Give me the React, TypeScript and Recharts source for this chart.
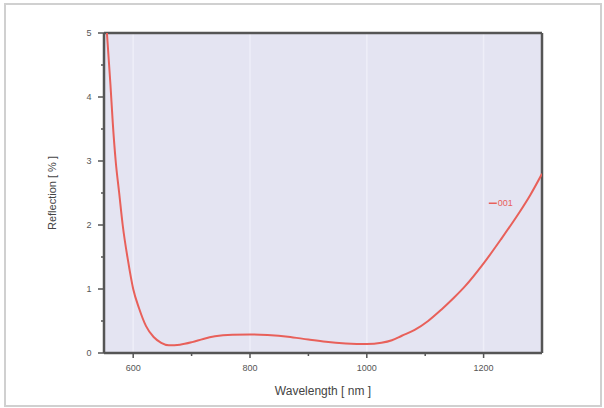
import React from "react";
import {
  LineChart,
  Line,
  XAxis,
  YAxis,
  CartesianGrid,
  ReferenceLine,
  ReferenceDot,
  Label,
} from "recharts";

const wavelengths = [
  555, 561, 565, 570, 576, 582, 591, 600, 610, 622, 635, 648, 661, 680, 701,
  720, 740, 770, 800, 830, 865, 900, 930, 964, 1000, 1025, 1043, 1060, 1082,
  1105, 1128, 1150, 1168, 1200, 1230, 1260, 1280, 1300,
];
const reflection = [
  5.0, 4.2, 3.6, 3.0, 2.5, 2.0, 1.45, 1.0, 0.7, 0.42, 0.25, 0.16, 0.12, 0.13,
  0.17, 0.22, 0.26, 0.285, 0.29, 0.28, 0.255, 0.21, 0.175, 0.15, 0.14, 0.16,
  0.2, 0.27, 0.36, 0.5, 0.68, 0.87, 1.04, 1.4, 1.78, 2.18, 2.47, 2.8,
];
const xTicks = [600, 700, 800, 900, 1000, 1100, 1200];
const xMajor = [600, 800, 1000, 1200];
const yTicks = [0, 0.5, 1, 1.5, 2, 2.5, 3, 3.5, 4, 4.5, 5];
const seriesName = "001";
const legendAt = { w: 1226, r: 2.34 };

const data = wavelengths.map((w, i) => ({ w, r: reflection[i] }));

const FONT = "'Liberation Sans', Arial, sans-serif";
const AXIS = "#555";
const RED = "#e8605a";

const XTick = (props: any) => {
  const { x, y, payload } = props;
  const major = xMajor.includes(payload.value);
  return (
    <g>
      <line x1={x} x2={x} y1={y} y2={y + (major ? 5 : 3)} stroke={AXIS} strokeWidth={1.5} />
      {major && (
        <text x={x} y={y + 18} textAnchor="middle" fontSize={9} fill="#555" fontFamily={FONT}>
          {payload.value}
        </text>
      )}
    </g>
  );
};

const YTick = (props: any) => {
  const { x, y, payload } = props;
  const major = Number.isInteger(payload.value);
  return (
    <g>
      <line x1={x} x2={x - (major ? 6 : 3)} y1={y} y2={y} stroke={AXIS} strokeWidth={1.5} />
      {major && (
        <text x={x - 15} y={y + 3} textAnchor="middle" fontSize={9} fill="#555" fontFamily={FONT}>
          {payload.value}
        </text>
      )}
    </g>
  );
};

const LegendLabel = (p: any) => {
  const vb = p.viewBox;
  const cx = vb.x + (vb.width || 0) / 2;
  const cy = vb.y + (vb.height || 0) / 2;
  return (
    <g>
      <line x1={cx - 10} x2={cx - 2} y1={cy} y2={cy} stroke={RED} strokeWidth={1.5} />
      <text x={cx - 1} y={cy + 3} fontSize={9} fill={RED} fontFamily={FONT}>
        {seriesName}
      </text>
    </g>
  );
};

export default function App() {
  return (
    <div style={{ position: "absolute", left: 0, top: 0, width: 604, height: 408, background: "#fff" }}>
      <div
        style={{
          position: "absolute",
          left: 4,
          top: 3,
          width: 594,
          height: 400,
          border: "2px solid #d0d0d0",
          pointerEvents: "none",
        }}
      />
      <LineChart
        width={604}
        height={408}
        data={data}
        margin={{ top: 33, right: 62, left: 0, bottom: 0 }}
      >
        <CartesianGrid fill="#e4e4f2" stroke="none" horizontal={false} vertical={false} />
        {xMajor.map((v) => (
          <ReferenceLine key={v} x={v} stroke="#eeeef8" strokeWidth={1.5} />
        ))}
        <XAxis
          dataKey="w"
          type="number"
          domain={[550, 1300]}
          ticks={xTicks}
          allowDataOverflow
          height={55}
          tickSize={0}
          tickMargin={0}
          tickLine={false}
          tick={<XTick />}
          axisLine={{ stroke: AXIS, strokeWidth: 2.5 }}
          interval={0}
        >
          <Label
            content={(p: any) => {
              const vb = p.viewBox;
              return (
                <text
                  x={vb.x + vb.width / 2}
                  y={vb.y + 42}
                  textAnchor="middle"
                  fontSize={12}
                  fill="#444"
                  fontFamily={FONT}
                >
                  Wavelength [ nm ]
                </text>
              );
            }}
          />
        </XAxis>
        <YAxis
          type="number"
          domain={[0, 5]}
          ticks={yTicks}
          allowDataOverflow
          width={104}
          tickSize={0}
          tickMargin={0}
          tickLine={false}
          tick={<YTick />}
          axisLine={{ stroke: AXIS, strokeWidth: 2.5 }}
          interval={0}
        >
          <Label
            content={(p: any) => {
              const vb = p.viewBox;
              const cx = vb.x + 52;
              const cy = vb.y + vb.height / 2;
              return (
                <text
                  x={cx}
                  y={cy}
                  transform={`rotate(-90 ${cx} ${cy})`}
                  textAnchor="middle"
                  dominantBaseline="central"
                  fontSize={11}
                  fill="#444"
                  fontFamily={FONT}
                >
                  Reflection [ % ]
                </text>
              );
            }}
          />
        </YAxis>
        <ReferenceLine y={5} stroke={AXIS} strokeWidth={2.5} />
        <ReferenceLine x={1300} stroke={AXIS} strokeWidth={2.5} />
        <Line
          type="monotone"
          dataKey="r"
          stroke={RED}
          strokeWidth={2}
          dot={false}
          isAnimationActive={false}
          name={seriesName}
        />
        <ReferenceDot
          x={legendAt.w}
          y={legendAt.r}
          r={0}
          fill="none"
          stroke="none"
          label={<LegendLabel />}
        />
      </LineChart>
    </div>
  );
}
